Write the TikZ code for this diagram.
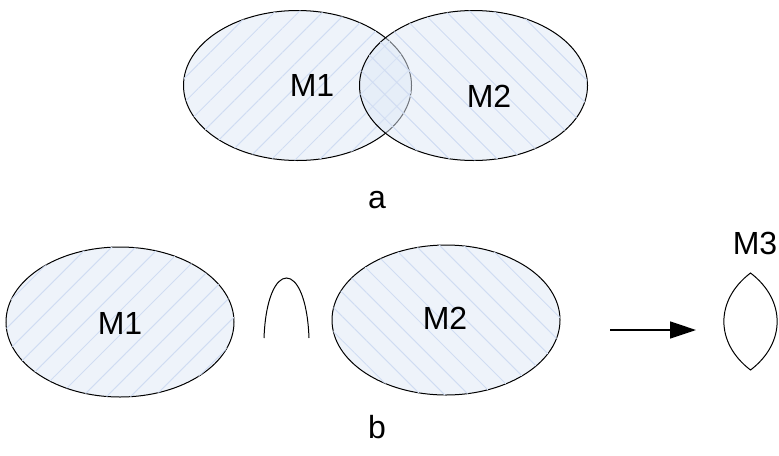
\documentclass[tikz,border=0pt]{standalone}
\usepackage{fontspec}
\setmainfont{Liberation Sans}
\usetikzlibrary{arrows.meta,positioning,shapes.geometric,patterns.meta}
\definecolor{setfill}{RGB}{222,232,246}
\definecolor{hatch}{RGB}{208,220,242}

\begin{document}
\begin{tikzpicture}[
  x=0.5pt, y=-0.5pt,
  set/.style={ellipse, draw, line width=0.5pt, minimum width=114pt, minimum height=75pt, inner sep=0pt, fill=setfill, fill opacity=0.5},
  setr/.style={set, postaction={pattern={Lines[angle=45,distance=8.5pt,line width=0.5pt]}, pattern color=hatch}},
  setl/.style={set, postaction={pattern={Lines[angle=-45,distance=8.5pt,line width=0.5pt]}, pattern color=hatch}},
  txt/.style={font=\fontsize{16}{19}\selectfont, inner sep=0pt},
  arr/.style={-{Triangle[length=13pt,width=8.5pt]}, line width=0.75pt}
]
\useasboundingbox (0,0) rectangle (779,455);
% a: overlapping sets
\node[setr] (m1a) at (297.5,85.5) {};
\node[setl] (m2a) at (473.5,85.5) {};
\node[txt] (m1alabel) at (312,85) {M1};
\node[txt] (m2alabel) at (489,96) {M2};
\node[txt] (capa) at (377,200) {a};
% b: separate sets
\node[setr] (m1b) at (120,322) {};
\node[setl] (m2b) at (446,320) {};
\node[txt] (m1blabel) at (120,323) {M1};
\node[txt] (m2blabel) at (445,318) {M2};
\node[txt] (capb) at (377,427) {b};
% intersection sign
\draw[line width=0.5pt] (264,338) .. controls (267,258) and (306,258) .. (309,338);
% result
\coordinate (astart) at (610,330);
\coordinate (aend) at (696,330);
\draw[arr] (astart) -- (aend);
\draw[line width=0.5pt] (750.5,273) .. controls (715,300) and (715,343) .. (750.5,370)
  .. controls (786,343) and (786,300) .. cycle;
\node[txt] (m3label) at (755,243) {M3};
\end{tikzpicture}
\end{document}
